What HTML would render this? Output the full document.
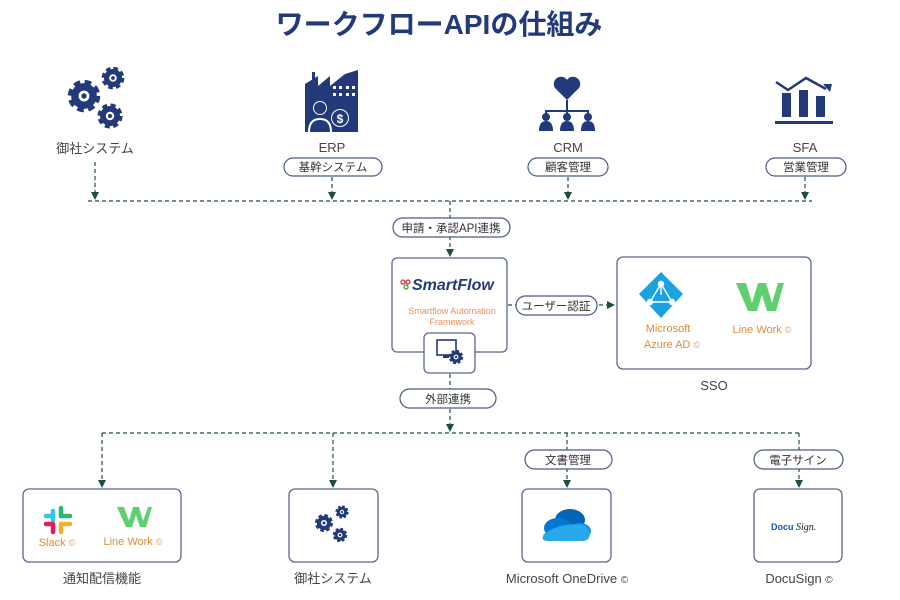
<!DOCTYPE html>
<html><head><meta charset="utf-8"><style>
html,body{margin:0;padding:0;background:#fff;}
svg{display:block;font-family:"Liberation Sans","Noto Sans CJK JP",sans-serif;}
</style></head><body>
<svg width="900" height="600" viewBox="0 0 900 600" xmlns="http://www.w3.org/2000/svg">
<defs>
<marker id="ar" markerWidth="8" markerHeight="8" refX="4" refY="4" orient="auto" markerUnits="userSpaceOnUse">
<path d="M0,0 L8,4 L0,8 z" fill="#1d4d44"/></marker>
<g id="gear">
<circle r="9" fill="none" stroke="#223a7a" stroke-width="6" stroke-dasharray="4.2 2.9"/>
<circle r="9.5" fill="#223a7a"/>
<circle r="4" fill="#fff"/><circle r="2" fill="#223a7a"/>
</g>
</defs>
<text x="439" y="34" text-anchor="middle" font-size="28" font-weight="bold" fill="#223a7a">ワークフローAPIの仕組み</text>

<!-- top icons -->
<g transform="translate(84,96)"><use href="#gear" transform="scale(1.35)"/></g>
<g transform="translate(113,78)"><use href="#gear" transform="scale(0.95)"/></g>
<g transform="translate(110,116)"><use href="#gear" transform="scale(1.05)"/></g>

<g fill="#223a7a">
<path d="M305,132 L305,84 L318,76 L318,86 L330,76 L330,86 L345,74 L358,70 L358,132 z"/>
<rect x="312" y="72" width="3" height="10"/>
<circle cx="320" cy="108" r="7" fill="#fff"/><circle cx="320" cy="108" r="6"/>
<path d="M308,132 q0,-14 12,-14 q12,0 12,14z" fill="#fff"/><path d="M310,132 q0,-12 10,-12 q10,0 10,12z"/>
<circle cx="340" cy="118" r="9" fill="#fff"/><circle cx="340" cy="118" r="8"/>
<text x="340" y="123" text-anchor="middle" font-size="12" font-weight="bold" fill="#fff">$</text>
</g>
<g fill="#fff"><rect x="333" y="86" width="3" height="3"/><rect x="339" y="86" width="3" height="3"/><rect x="346" y="86" width="3" height="3"/><rect x="352" y="86" width="3" height="3"/><rect x="333" y="93" width="3" height="3"/><rect x="339" y="93" width="3" height="3"/><rect x="346" y="93" width="3" height="3"/><rect x="352" y="93" width="3" height="3"/></g>

<g fill="#223a7a">
<path d="M567,100 l-12,-12 a6,6 0 0 1 12,-8 a6,6 0 0 1 12,8 z"/>
<rect x="566" y="100" width="2" height="8"/>
<path d="M546,117 v-6 h42 v6" fill="none" stroke="#223a7a" stroke-width="2"/>
<rect x="566" y="108" width="2" height="9"/>
<circle cx="546" cy="117" r="4"/><circle cx="567" cy="117" r="4"/><circle cx="588" cy="117" r="4"/>
<path d="M539,131 q0,-10 7,-10 q7,0 7,10z M560,131 q0,-10 7,-10 q7,0 7,10z M581,131 q0,-10 7,-10 q7,0 7,10z"/>
</g>
<g fill="#223a7a">
<rect x="782" y="93" width="9" height="24"/><rect x="799" y="90" width="9" height="27"/><rect x="816" y="96" width="9" height="21"/>
<rect x="775" y="121" width="58" height="3"/>
<path d="M776,82 l12,8 l18,-12 l20,11" fill="none" stroke="#223a7a" stroke-width="2.5"/>
<path d="M823,84 l9,0 l-2,8z"/>
</g>

<g font-size="13" fill="#444" text-anchor="middle">
<text x="95" y="153">御社システム</text>
<text x="332" y="152">ERP</text>
<text x="568" y="152">CRM</text>
<text x="805" y="152">SFA</text>
<text x="714" y="390">SSO</text>
<text x="102" y="583">通知配信機能</text>
<text x="333" y="583">御社システム</text>
<text x="567" y="583">Microsoft OneDrive <tspan font-size="10">©</tspan></text>
<text x="799" y="583">DocuSign <tspan font-size="10">©</tspan></text>
</g>

<!-- dashed connectors -->
<g stroke="#1d4d44" stroke-width="1.2" stroke-dasharray="4 3" fill="none">
<line x1="95" y1="162" x2="95" y2="196" marker-end="url(#ar)"/>
<line x1="332" y1="177" x2="332" y2="196" marker-end="url(#ar)"/>
<line x1="568" y1="177" x2="568" y2="196" marker-end="url(#ar)"/>
<line x1="805" y1="177" x2="805" y2="196" marker-end="url(#ar)"/>
<line x1="88" y1="201" x2="812" y2="201"/>
<line x1="450" y1="201" x2="450" y2="253" marker-end="url(#ar)"/>
<line x1="508" y1="305" x2="611" y2="305" marker-end="url(#ar)"/>
<line x1="450" y1="374" x2="450" y2="428" marker-end="url(#ar)"/>
<line x1="102" y1="433" x2="800" y2="433"/>
<line x1="102" y1="433" x2="102" y2="484" marker-end="url(#ar)"/>
<line x1="333" y1="433" x2="333" y2="484" marker-end="url(#ar)"/>
<line x1="567" y1="433" x2="567" y2="484" marker-end="url(#ar)"/>
<line x1="799" y1="433" x2="799" y2="484" marker-end="url(#ar)"/>
</g>

<!-- pills -->
<g fill="#fff" stroke="#4a5a8a" stroke-width="1.2">
<rect x="284" y="158" width="98" height="18" rx="9"/>
<rect x="528" y="158" width="80" height="18" rx="9"/>
<rect x="766" y="158" width="80" height="18" rx="9"/>
<rect x="393" y="218" width="117" height="19" rx="9.5"/>
<rect x="516" y="296" width="81" height="19" rx="9.5"/>
<rect x="400" y="389" width="96" height="19" rx="9.5"/>
<rect x="525" y="450" width="87" height="19" rx="9.5"/>
<rect x="754" y="450" width="89" height="19" rx="9.5"/>
</g>
<g font-size="11.5" fill="#333" text-anchor="middle">
<text x="333" y="171">基幹システム</text>
<text x="568" y="171">顧客管理</text>
<text x="806" y="171">営業管理</text>
<text x="451" y="232">申請・承認API連携</text>
<text x="556" y="310">ユーザー認証</text>
<text x="448" y="403">外部連携</text>
<text x="568" y="464">文書管理</text>
<text x="798" y="464">電子サイン</text>
</g>

<!-- boxes -->
<g fill="#fff" stroke="#5a6696" stroke-width="1.3">
<rect x="392" y="258" width="115" height="94" rx="5"/>
<rect x="424" y="333" width="51" height="40" rx="5"/>
<rect x="617" y="257" width="194" height="112" rx="6"/>
<rect x="23" y="489" width="158" height="73" rx="6"/>
<rect x="289" y="489" width="89" height="73" rx="6"/>
<rect x="522" y="489" width="89" height="73" rx="6"/>
<rect x="754" y="489" width="88" height="73" rx="6"/>
</g>

<!-- smartflow -->
<circle cx="403" cy="282" r="2" fill="none" stroke="#d33" stroke-width="1.3"/>
<circle cx="408" cy="282" r="2" fill="none" stroke="#d33" stroke-width="1.3"/>
<circle cx="406" cy="287" r="2" fill="none" stroke="#3a3" stroke-width="1.3"/>
<text x="412" y="290" font-size="16" font-weight="bold" font-style="italic" fill="#223a7a">SmartFlow</text>
<text x="452" y="314" text-anchor="middle" font-size="9" fill="#e8905a">Smartflow Automation</text>
<text x="452" y="325" text-anchor="middle" font-size="9" fill="#e8905a">Framework</text>
<rect x="437" y="340" width="19" height="15" fill="none" stroke="#223a7a" stroke-width="1.6"/>
<rect x="443" y="355" width="6" height="3" fill="#223a7a"/>
<g transform="translate(456,357)"><use href="#gear" transform="scale(0.6)"/></g>

<!-- SSO contents -->
<polygon points="661,272 683,294 661,318 639,294" fill="#1aa3e0"/>
<g stroke="#fff" stroke-width="1.4" fill="#fff"><line x1="661" y1="284" x2="650" y2="302"/><line x1="661" y1="284" x2="672" y2="302"/><line x1="650" y1="302" x2="672" y2="302"/><line x1="661" y1="284" x2="661" y2="295"/><circle cx="661" cy="284" r="2.5"/><circle cx="650" cy="302" r="2.5"/><circle cx="672" cy="302" r="2.5"/></g>
<g font-size="11" fill="#e08a3a" text-anchor="middle">
<text x="668" y="332">Microsoft</text>
<text x="672" y="348">Azure AD <tspan fill="#e8a070" font-size="9">©</tspan></text>
<text x="762" y="333">Line Work <tspan fill="#e8a070" font-size="9">©</tspan></text>
<text x="57" y="546">Slack <tspan fill="#e8a070" font-size="9">©</tspan></text>
<text x="133" y="545">Line Work <tspan fill="#e8a070" font-size="9">©</tspan></text>
</g>
<path d="M736,283 h10 l6,20 l6,-20 h8 l6,20 l6,-20 h6 l-8,28 h-9 l-5,-16 l-5,16 h-9z" fill="#5fcf70"/>
<path d="M117,507 h7 l5,14 l4,-14 h6 l4,14 l5,-14 h4 l-6,20 h-6 l-4,-12 l-4,12 h-6z" fill="#5fcf70"/>

<!-- slack -->
<g stroke-linecap="round" stroke-width="4.5">
<line x1="53" y1="511" x2="53" y2="520" stroke="#36c5f0"/>
<line x1="46" y1="516" x2="53" y2="516" stroke="#36c5f0"/>
<line x1="61" y1="508" x2="61" y2="516" stroke="#2eb67d"/>
<line x1="61" y1="516" x2="70" y2="516" stroke="#2eb67d"/>
<line x1="61" y1="524" x2="70" y2="524" stroke="#ecb22e"/>
<line x1="61" y1="524" x2="61" y2="532" stroke="#ecb22e"/>
<line x1="53" y1="524" x2="53" y2="532" stroke="#e01e5a"/>
<line x1="46" y1="524" x2="53" y2="524" stroke="#e01e5a"/>
</g>

<!-- gears bottom -->
<g transform="translate(324,523)"><use href="#gear" transform="scale(0.75)"/></g>
<g transform="translate(342,512)"><use href="#gear" transform="scale(0.55)"/></g>
<g transform="translate(340,535)"><use href="#gear" transform="scale(0.6)"/></g>

<!-- onedrive -->
<ellipse cx="570" cy="520" rx="15" ry="11" fill="#0364b8"/>
<ellipse cx="558" cy="528" rx="14" ry="10" fill="#0078d4"/>
<ellipse cx="580" cy="531" rx="11" ry="8" fill="#1490df"/>
<path d="M544,534 q20,-14 42,-8 l4,7 q0,8 -8,8 h-34 q-8,0 -4,-7z" fill="#28a8ea"/>

<!-- docusign -->
<text x="771" y="530" font-size="9" font-weight="bold" fill="#1f4fbf">Docu</text>
<text x="796" y="530" font-size="10" font-style="italic" font-family="Liberation Serif,serif" fill="#222">Sign.</text>
</svg>
</body></html>
